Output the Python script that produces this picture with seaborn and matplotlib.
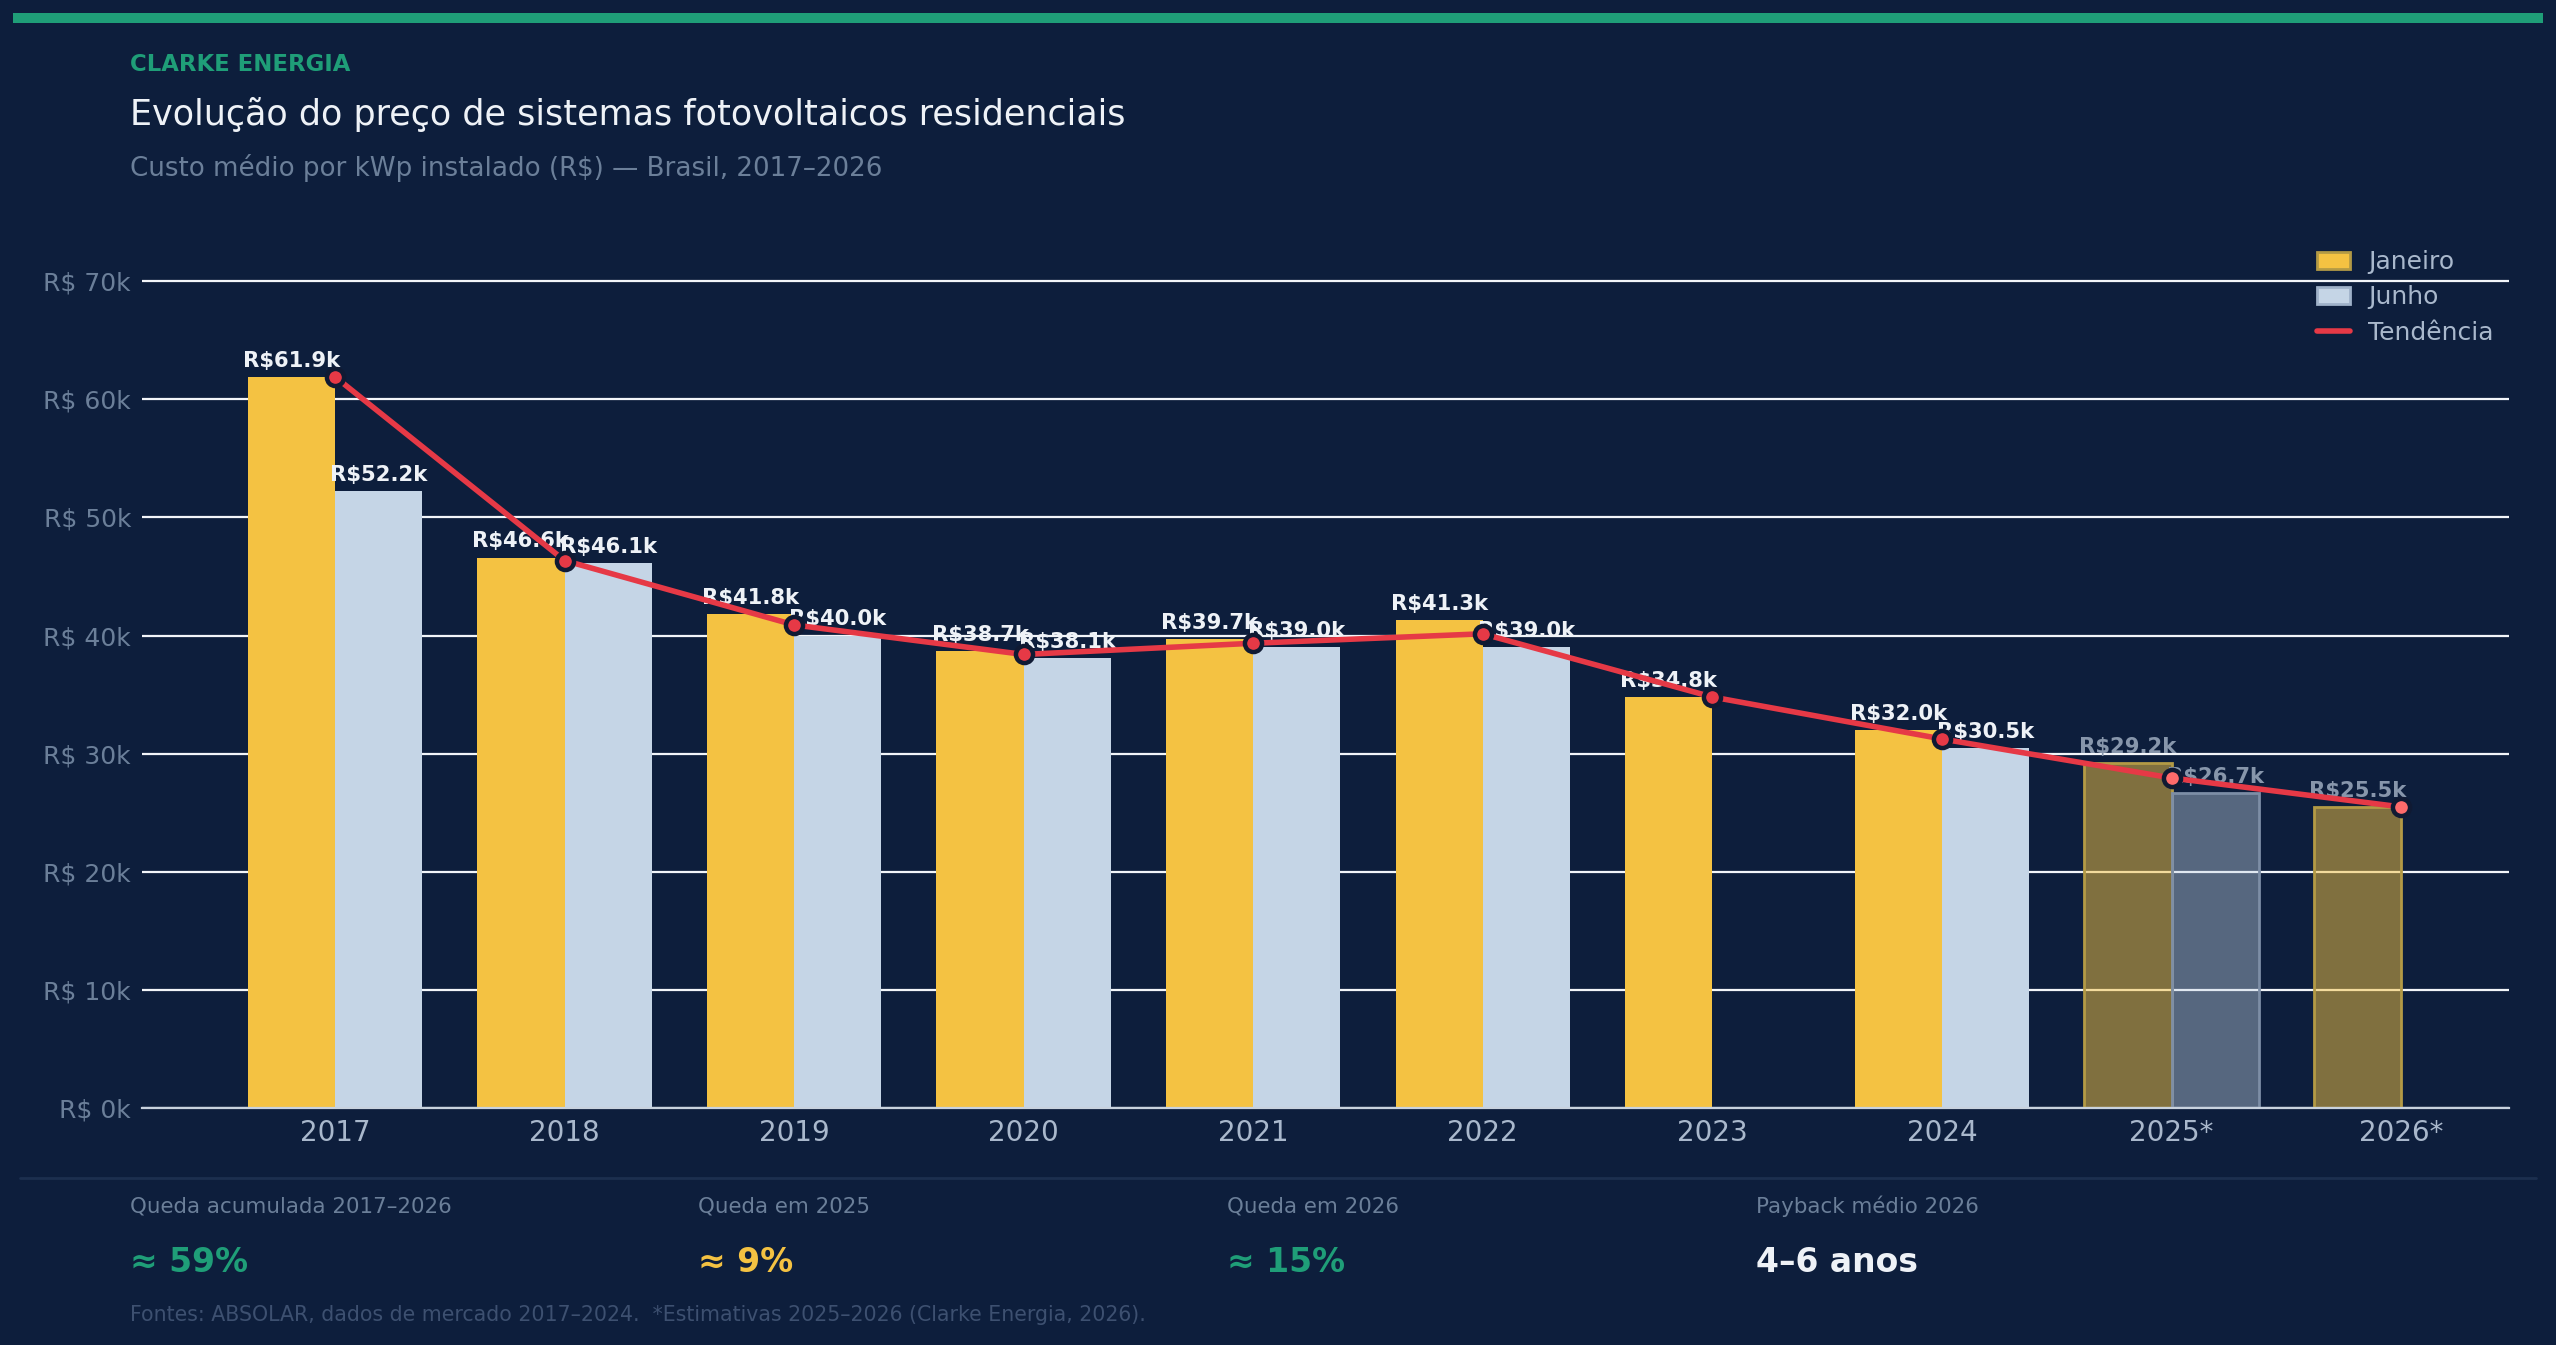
import matplotlib
matplotlib.use("Agg")
import matplotlib.pyplot as plt
import numpy as np
import pandas as pd
import seaborn as sns
from matplotlib.patches import Patch, Rectangle
from matplotlib.lines import Line2D
from matplotlib.ticker import FuncFormatter

# data (R$ per kWp, thousands)
years = ["2017", "2018", "2019", "2020", "2021", "2022", "2023", "2024", "2025*", "2026*"]
janeiro = [61.9, 46.6, 41.8, 38.7, 39.7, 41.3, 34.8, 32.0, 29.2, 25.5]
junho = [52.2, 46.1, 40.0, 38.1, 39.0, 39.0, np.nan, 30.5, 26.7, np.nan]
tendencia = [61.9, 46.35, 40.9, 38.4, 39.35, 40.15, 34.8, 31.25, 27.95, 25.5]
projected = ["2025*", "2026*"]

stat_labels = ["Queda acumulada 2017–2026", "Queda em 2025", "Queda em 2026", "Payback médio 2026"]
stat_values = ["≈ 59%", "≈ 9%", "≈ 15%", "4–6 anos"]

BG = "#0d1e3c"
GREEN = "#1f9e78"
YELLOW = "#f4c242"
LIGHT = "#c5d5e6"
RED = "#e63946"
MUTED = "#6b7f99"
TICK = "#a9b8cc"

sns.set_theme(style="darkgrid", rc={
    "axes.facecolor": BG,
    "figure.facecolor": BG,
    "grid.color": "#f2f5f9",
    "grid.linewidth": 0.8,
})
plt.rcParams["font.family"] = ["DejaVu Sans"]

df = pd.DataFrame({
    "ano": years * 2,
    "mes": ["Janeiro"] * len(years) + ["Junho"] * len(years),
    "valor": [v * 1000 for v in janeiro] + [v * 1000 for v in junho],
}).dropna()

fig = plt.figure(figsize=(12.78, 6.725), dpi=200)
ax = fig.add_axes([0.0556, 0.176, 0.926, 0.659])

sns.barplot(data=df, x="ano", y="valor", hue="mes", order=years,
            hue_order=["Janeiro", "Junho"], palette={"Janeiro": YELLOW, "Junho": LIGHT},
            width=0.76, linewidth=0, saturation=1, legend=False, ax=ax, zorder=2)

for p in ax.patches:
    cx = p.get_x() + p.get_width() / 2
    i = int(round(cx))
    is_jan = cx < i
    val = p.get_height()
    proj = years[i] in projected
    if proj:
        if is_jan:
            p.set_facecolor((0xf4 / 255, 0xc2 / 255, 0x42 / 255, 0.5))
            p.set_edgecolor("#b39a45")
        else:
            p.set_facecolor((0xc5 / 255, 0xd5 / 255, 0xe6 / 255, 0.4))
            p.set_edgecolor("#7d8ea6")
        p.set_linewidth(1.0)
    ax.annotate(f"R${val / 1000:.1f}k", (cx, val), xytext=(0, 2.2), textcoords="offset points",
                ha="center", va="bottom", fontsize=7.6, fontweight="bold",
                color="#8796ab" if proj else "#eef2f7", zorder=3)

xpos = np.arange(len(years))
sns.lineplot(x=xpos, y=np.array(tendencia) * 1000, color=RED, lw=2, ax=ax, zorder=5)
real = [y not in projected for y in years]
sns.scatterplot(x=xpos[real], y=np.array(tendencia)[real] * 1000, color=RED, s=38,
                edgecolor="#101a33", linewidth=1.6, ax=ax, zorder=6)
proj_mask = [not r for r in real]
sns.scatterplot(x=xpos[proj_mask], y=np.array(tendencia)[proj_mask] * 1000, color="#ff6b6b", s=38,
                edgecolor="#101a33", linewidth=1.6, ax=ax, zorder=6)

ax.set_xlim(-0.84, 9.47)
ax.set_ylim(0, 75000)
ax.set_yticks(np.arange(0, 70001, 10000))
ax.yaxis.set_major_formatter(FuncFormatter(lambda v, _: f"R$ {v / 1000:.0f}k"))
ax.grid(axis="x", visible=False)
ax.set_xlabel("")
ax.set_ylabel("")
ax.tick_params(axis="x", colors=TICK, labelsize=10, length=0, pad=4)
ax.tick_params(axis="y", colors=MUTED, labelsize=9, length=0, pad=4)
for s in ["left", "top", "right"]:
    ax.spines[s].set_visible(False)
ax.spines["bottom"].set_color("#c8d2de")
ax.spines["bottom"].set_linewidth(0.8)

handles = [
    Patch(facecolor=YELLOW, edgecolor="#b39a45", label="Janeiro"),
    Patch(facecolor=LIGHT, edgecolor="#9fb2c9", label="Junho"),
    Line2D([0], [0], color=RED, lw=2, label="Tendência"),
]
leg = ax.legend(handles=handles, loc="upper right", bbox_to_anchor=(1.0, 0.985), frameon=False,
                fontsize=9, handlelength=1.3, handleheight=0.7, labelspacing=0.45,
                borderaxespad=0.2, handletextpad=0.75)
for t in leg.get_texts():
    t.set_color(TICK)

# header
fig.add_artist(Rectangle((0.005, 0.983), 0.99, 0.0075, transform=fig.transFigure,
                         facecolor=GREEN, edgecolor="none"))
fig.text(0.0509, 0.9517, "CLARKE ENERGIA", color=GREEN, fontsize=8.2, fontweight="bold", va="center")
fig.text(0.0509, 0.915, "Evolução do preço de sistemas fotovoltaicos residenciais",
         color="#eef2f7", fontsize=12.6, va="center")
fig.text(0.0509, 0.875, "Custo médio por kWp instalado (R$) — Brasil, 2017–2026",
         color=MUTED, fontsize=9.4, va="center")

# footer stats
fig.add_artist(Line2D([0.008, 0.992], [0.124, 0.124], transform=fig.transFigure,
                      color="#1c2f4f", lw=1))
stat_x = [0.0509, 0.273, 0.480, 0.687]
stat_colors = [GREEN, YELLOW, GREEN, "#eef2f7"]
for x, lab, val, c in zip(stat_x, stat_labels, stat_values, stat_colors):
    fig.text(x, 0.1033, lab, color=MUTED, fontsize=7.7, va="center")
    fig.text(x, 0.0617, val, color=c, fontsize=11.9, fontweight="bold", va="center")
fig.text(0.0509, 0.0223,
         "Fontes: ABSOLAR, dados de mercado 2017–2024.  *Estimativas 2025–2026 (Clarke Energia, 2026).",
         color="#3d5070", fontsize=7.4, va="center")

fig.savefig("out.png", dpi=200, facecolor=BG)
